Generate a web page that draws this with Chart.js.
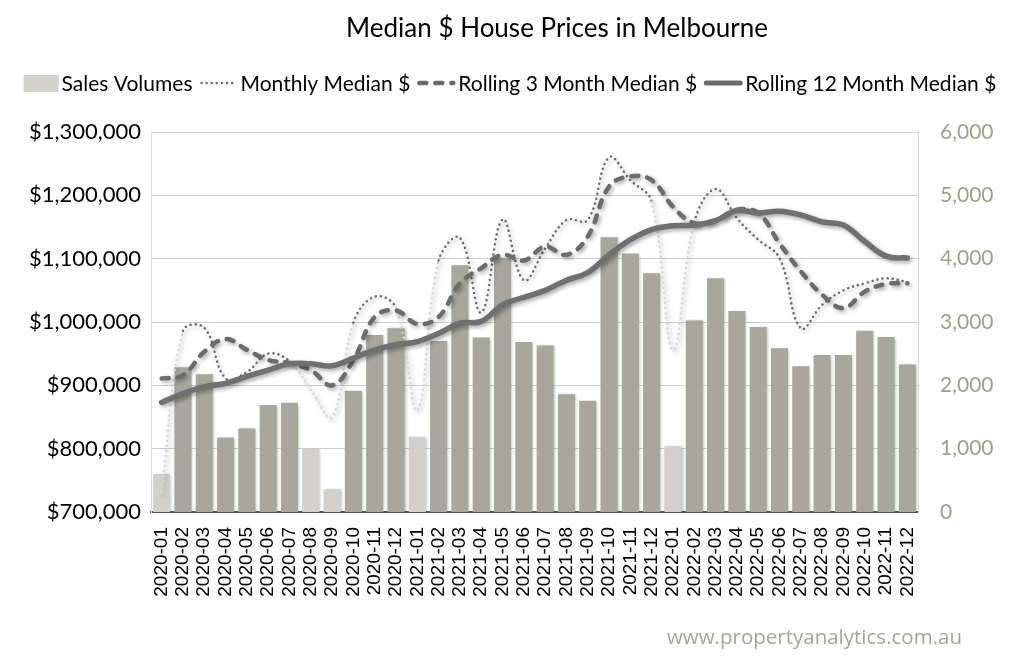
<!DOCTYPE html>
<html>
<head>
<meta charset="utf-8">
<script src="https://cdn.jsdelivr.net/npm/chart.js@4.4.0/dist/chart.umd.min.js"></script>
<style>
  body { margin: 0; background: #fff; }
  #wrap { width: 1024px; height: 671px; }
</style>
</head>
<body>
<div id="wrap"><canvas id="chart" width="1024" height="671"></canvas></div>
<script>
const months = ["2020-01", "2020-02", "2020-03", "2020-04", "2020-05", "2020-06", "2020-07", "2020-08", "2020-09", "2020-10", "2020-11", "2020-12",
    "2021-01", "2021-02", "2021-03", "2021-04", "2021-05", "2021-06", "2021-07", "2021-08", "2021-09", "2021-10", "2021-11", "2021-12",
    "2022-01", "2022-02", "2022-03", "2022-04", "2022-05", "2022-06", "2022-07", "2022-08", "2022-09", "2022-10", "2022-11", "2022-12"];

const sales_volumes = [600, 2285, 2175, 1175, 1320, 1690, 1725, 995, 360, 1915, 2795, 2900,
    1190, 2700, 3895, 2755, 4015, 2685, 2630, 1860, 1755, 4340, 4080, 3770,
    1040, 3025, 3690, 3175, 2920, 2585, 2300, 2480, 2480, 2860, 2765, 2330];

const monthly_median = [732000, 986000, 991000, 911000, 921000, 950000, 938000, 893000, 850000, 999000, 1040000, 1022000,
    861000, 1097000, 1133000, 1015000, 1162000, 1066000, 1116000, 1161000, 1161000, 1260000, 1224000, 1190000,
    956000, 1158000, 1210000, 1164000, 1130000, 1101000, 990000, 1027000, 1050000, 1061000, 1069000, 1063000];

const rolling_3_median = [911000, 916000, 953000, 973000, 956000, 940000, 935000, 924000, 900000, 940000, 1008000, 1018000,
    997000, 1008000, 1061000, 1085000, 1106000, 1097000, 1119000, 1106000, 1135000, 1214000, 1230000, 1224000,
    1182000, 1156000, 1161000, 1177000, 1172000, 1124000, 1080000, 1043000, 1022000, 1048000, 1060000, 1061000];

const rolling_12_median = [873000, 887000, 898000, 903000, 914000, 924000, 934000, 934000, 931000, 943000, 956000, 964000,
    969000, 982000, 998000, 1001000, 1027000, 1039000, 1050000, 1066000, 1078000, 1106000, 1130000, 1146000,
    1152000, 1153000, 1160000, 1176000, 1172000, 1175000, 1169000, 1158000, 1153000, 1127000, 1104000, 1101000];

// months with partial data (drawn lighter)
const partial_months = ["2020-01", "2020-08", "2020-09", "2021-01", "2022-01"];

const price_ticks = [700000, 1300000, 100000];
const volume_ticks = [0, 6000, 1000];

const bar_dark = "#a7a79b";
const bar_light = "#d2d2cb";
const line_grey = "#6c6c6c";
const line_light = "#d6d6d6";

const is_partial = (i) => partial_months.includes(months[i]);

const shadow_plugin = {
    id: "shadows",
    beforeDatasetDraw(chart, args) {
        const ctx = chart.ctx;
        ctx.save();
        if (args.meta.type === "bar") {
            ctx.shadowColor = "rgba(0,0,0,0.28)";
            ctx.shadowBlur = 3;
            ctx.shadowOffsetX = 1;
            ctx.shadowOffsetY = 1;
        } else {
            ctx.shadowColor = "rgba(0,0,0,0.35)";
            ctx.shadowBlur = 4;
            ctx.shadowOffsetX = 2;
            ctx.shadowOffsetY = 2;
        }
    },
    afterDatasetDraw(chart) {
        chart.ctx.restore();
    }
};

const legend_items = [
    { text: "Sales Volumes", kind: "box" },
    { text: "Monthly Median $", kind: "line", width: 2.5, dash: [0.1, 5] },
    { text: "Rolling 3 Month Median $", kind: "line", width: 4.5, dash: [7, 9] },
    { text: "Rolling 12 Month Median $", kind: "line", width: 5, dash: [] }
];

const decor_plugin = {
    id: "decor",
    afterDraw(chart) {
        const ctx = chart.ctx;
        ctx.save();
        // title
        ctx.fillStyle = "#000";
        ctx.font = "26px Lato";
        ctx.textAlign = "center";
        ctx.textBaseline = "middle";
        ctx.fillText("Median $ House Prices in Melbourne", 557, 29);

        // legend
        ctx.font = "21px Lato";
        ctx.textAlign = "left";
        const y = 83;
        const widths = legend_items.map(it => ctx.measureText(it.text).width);
        const total = 35 + 3 + widths.reduce((a, b) => a + b, 0) + 3 * (7 + 38 + 3);
        let x = 510 - total / 2;
        legend_items.forEach((it, i) => {
            if (i > 0) x += 7;
            if (it.kind === "box") {
                ctx.fillStyle = bar_light;
                ctx.fillRect(x, y - 8, 35, 17);
                x += 35 + 3;
            } else {
                ctx.beginPath();
                ctx.strokeStyle = line_grey;
                ctx.lineWidth = it.width;
                ctx.lineCap = "round";
                ctx.setLineDash(it.dash);
                ctx.moveTo(x + 2, y);
                ctx.lineTo(x + 36, y);
                ctx.stroke();
                ctx.setLineDash([]);
                x += 38 + 3;
            }
            ctx.fillStyle = "#000";
            ctx.fillText(it.text, x, y + 1);
            x += widths[i];
        });

        // watermark
        ctx.font = "20.5px 'Open Sans'";
        ctx.fillStyle = "#a6a692";
        ctx.textAlign = "right";
        ctx.fillText("www.propertyanalytics.com.au", 962, 638);
        ctx.restore();
    }
};

const chart_ctx = document.getElementById("chart").getContext("2d");
const price_chart = new Chart(chart_ctx, {
    data: {
        labels: months,
        datasets: [
            {
                type: "bar",
                label: "Sales Volumes",
                data: sales_volumes,
                yAxisID: "y1",
                backgroundColor: months.map((m, i) => is_partial(i) ? bar_light : bar_dark),
                barPercentage: 0.8,
                categoryPercentage: 1.0,
                order: 10
            },
            {
                type: "line",
                label: "Monthly Median $",
                data: monthly_median,
                yAxisID: "y",
                borderColor: line_grey,
                borderWidth: 2.5,
                borderDash: [0.1, 5],
                borderCapStyle: "round",
                pointRadius: 0,
                tension: 0.4,
                segment: {
                    borderColor: (s) => (is_partial(s.p0DataIndex) || is_partial(s.p1DataIndex)) ? line_light : line_grey
                },
                order: 3
            },
            {
                type: "line",
                label: "Rolling 3 Month Median $",
                data: rolling_3_median,
                yAxisID: "y",
                borderColor: line_grey,
                borderWidth: 4.5,
                borderDash: [7, 9],
                borderCapStyle: "round",
                pointRadius: 0,
                tension: 0.4,
                order: 2
            },
            {
                type: "line",
                label: "Rolling 12 Month Median $",
                data: rolling_12_median,
                yAxisID: "y",
                borderColor: "#707070",
                borderWidth: 5.5,
                borderCapStyle: "round",
                pointRadius: 0,
                tension: 0.4,
                order: 1
            }
        ]
    },
    options: {
        responsive: false,
        devicePixelRatio: 1,
        animation: false,
        layout: { padding: { top: 132, left: 0, right: 0, bottom: 0 } },
        plugins: {
            legend: { display: false },
            title: { display: false },
            tooltip: { enabled: false }
        },
        scales: {
            x: {
                offset: true,
                grid: { display: false },
                border: { color: "#555", width: 2 },
                ticks: {
                    color: "#000",
                    font: { family: "'Liberation Sans'", size: 19 },
                    minRotation: 90,
                    maxRotation: 90,
                    autoSkip: false,
                    padding: 7
                },
                afterFit: (scale) => { scale.height = 159; }
            },
            y: {
                position: "left",
                min: price_ticks[0],
                max: price_ticks[1],
                grid: { color: "#cfcfcf", lineWidth: 1, drawTicks: false },
                border: { color: "#d9d9d9", width: 1 },
                ticks: {
                    stepSize: price_ticks[2],
                    color: "#000",
                    font: { family: "Lato", size: 22 },
                    padding: 10,
                    callback: (v) => "$" + v.toLocaleString("en-US")
                },
                afterFit: (scale) => { scale.width = 151; }
            },
            y1: {
                position: "right",
                min: volume_ticks[0],
                max: volume_ticks[1],
                grid: { display: false, drawTicks: false },
                border: { color: "#d9d9d9", width: 1 },
                ticks: {
                    stepSize: volume_ticks[2],
                    color: "#a0a08a",
                    font: { family: "Lato", size: 21 },
                    padding: 22,
                    callback: (v) => v.toLocaleString("en-US")
                },
                afterFit: (scale) => { scale.width = 106; }
            }
        }
    },
    plugins: [shadow_plugin, decor_plugin]
});
</script>
</body>
</html>
